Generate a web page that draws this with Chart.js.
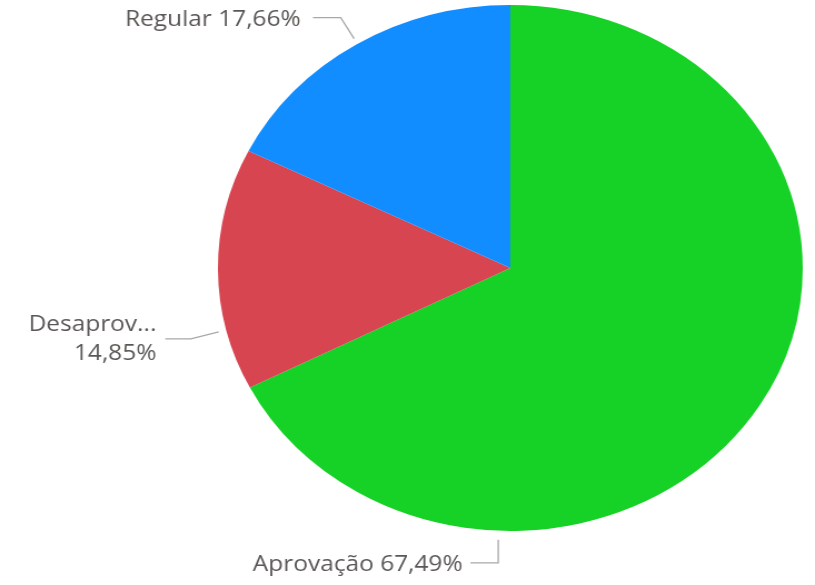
<!DOCTYPE html>
<html>
<head>
<meta charset="utf-8">
<script src="https://cdn.jsdelivr.net/npm/chart.js@4"></script>
<style>
  html, body { margin: 0; padding: 0; background: #fff; overflow: hidden; }
  #pizza { display: block; }
</style>
</head>
<body>
<canvas id="pizza" width="733" height="585" style="width:815px;height:585px"></canvas>
<script>
const categorias = ["Aprovação", "Desaprovação", "Regular"];
const percentuais = [67.49, 14.85, 17.66];
const cores = ["#16D126", "#D64550", "#118DFF"];

// linha guia de cada rótulo: ângulo (graus, sentido horário a partir do topo),
// afastamento da borda, cotovelo (dx, dy), trecho horizontal e espaço até o texto
const guias = [
    { angulo: 182.3, afast: 9, dx: 0, dy: 23, reta: 25, gap: 7, corte: 0 },
    { angulo: 256.3, afast: 7, dx: -25, dy: 7, reta: 23, gap: 8, corte: 8 },
    { angulo: 328.5, afast: 6, dx: -12, dy: -21, reta: 25, gap: 11, corte: 0 }
];

function formataPct(v) {
    return v.toFixed(2).replace(".", ",") + "%";
}

/* Desenha os rótulos externos com as linhas guia */
const rotulosPizza = {
    id: "rotulosPizza",
    afterDraw(chart) {
        const ctx = chart.ctx;
        const arcos = chart.getDatasetMeta(0).data;
        ctx.save();
        ctx.font = '22px "Open Sans"';
        ctx.textAlign = "right";
        ctx.textBaseline = "middle";
        arcos.forEach((arco, i) => {
            const g = guias[i];
            const a = (g.angulo - 90) * Math.PI / 180;
            const r = arco.outerRadius + g.afast;
            const x0 = arco.x + Math.cos(a) * r;
            const y0 = arco.y + Math.sin(a) * r;
            const x1 = x0 + g.dx;
            const y1 = y0 + g.dy;
            const x2 = x1 - g.reta;

            ctx.strokeStyle = "#A8A8A8";
            ctx.lineWidth = 1.3;
            ctx.beginPath();
            ctx.moveTo(x0, y0);
            ctx.lineTo(x1, y1);
            ctx.lineTo(x2, y1);
            ctx.stroke();

            ctx.fillStyle = "#5A5856";
            const tx = x2 - g.gap;
            if (g.corte) {
                // nome cortado em cima, percentual embaixo
                const nome = categorias[i].slice(0, g.corte) + "...";
                ctx.fillText(nome, tx, y1 - 14);
                ctx.fillText(formataPct(percentuais[i]), tx, y1 + 15);
            } else {
                ctx.fillText(categorias[i] + " " + formataPct(percentuais[i]), tx, y1 + 2);
            }
        });
        ctx.restore();
    }
};

new Chart(document.getElementById("pizza"), {
    type: "pie",
    data: {
        labels: categorias,
        datasets: [
            {
                data: percentuais,
                backgroundColor: cores,
                borderWidth: 0
            }
        ]
    },
    options: {
        responsive: false,
        animation: false,
        layout: {
            padding: { left: 196, right: 11, top: 5, bottom: 54 }
        },
        plugins: {
            legend: { display: false },
            tooltip: { enabled: false }
        }
    },
    plugins: [rotulosPizza]
});
</script>
</body>
</html>
